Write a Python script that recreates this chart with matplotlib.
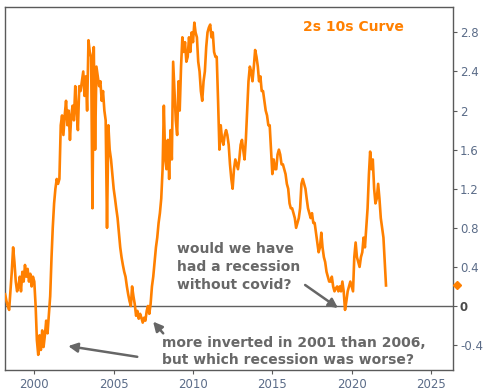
import numpy as np
import pandas as pd
import matplotlib
matplotlib.use('Agg')
import matplotlib.pyplot as plt
import matplotlib.transforms as mtransforms

# 10y - 2y treasury spread, monthly readings (Mar 1998 - Mar 2022)
y1998 = [0.12, 0.05, 0.0, -0.04, 0.15, 0.35, 0.6, 0.45, 0.25, 0.15]
y1999 = [0.2, 0.3, 0.15, 0.35, 0.25, 0.42, 0.3, 0.38, 0.25, 0.33, 0.2, 0.3]
y2000 = [0.25, 0.0, -0.35, -0.5, -0.3, -0.45, -0.25, -0.42, -0.3, -0.15, -0.28, -0.1]
y2001 = [0.1, 0.5, 0.8, 1.05, 1.2, 1.3, 1.25, 1.3, 1.85, 1.95, 1.75, 1.95]
y2002 = [2.1, 1.85, 2.0, 1.7, 1.95, 2.05, 1.9, 2.25, 2.0, 1.8, 2.25, 2.2]
y2003 = [2.3, 2.4, 2.15, 2.35, 2.0, 2.72, 2.6, 2.55, 1.0, 2.65, 1.6, 2.45]
y2004 = [2.35, 2.25, 2.3, 2.1, 2.2, 2.0, 1.9, 0.8, 1.85, 1.6, 1.5, 1.35]
y2005 = [1.2, 1.1, 1.0, 0.9, 0.75, 0.6, 0.5, 0.42, 0.35, 0.3, 0.2, 0.12]
y2006 = [0.05, 0.0, 0.2, 0.1, 0.02, -0.1, -0.05, -0.13, -0.08, -0.12, -0.17, -0.12]
y2007 = [-0.15, -0.05, 0.0, -0.08, 0.02, 0.2, 0.3, 0.45, 0.6, 0.7, 0.85, 0.95]
y2008 = [1.1, 1.4, 2.05, 1.5, 1.4, 1.7, 1.3, 1.8, 1.5, 2.5, 2.2, 1.9]
y2009 = [1.75, 2.3, 2.0, 2.45, 2.75, 2.6, 2.7, 2.5, 2.55, 2.75, 2.6, 2.8]
y2010 = [2.7, 2.9, 2.8, 2.75, 2.5, 2.4, 2.2, 2.1, 2.3, 2.4, 2.65, 2.8]
y2011 = [2.85, 2.88, 2.75, 2.8, 2.6, 2.55, 2.55, 2.1, 1.6, 1.85, 1.7, 1.65]
y2012 = [1.75, 1.8, 1.75, 1.65, 1.45, 1.3, 1.2, 1.4, 1.5, 1.45, 1.4, 1.5]
y2013 = [1.65, 1.7, 1.6, 1.5, 1.7, 2.0, 2.3, 2.45, 2.4, 2.3, 2.45, 2.62]
y2014 = [2.55, 2.45, 2.3, 2.35, 2.2, 2.2, 2.1, 2.0, 1.95, 1.85, 1.85, 1.6]
y2015 = [1.35, 1.5, 1.4, 1.4, 1.55, 1.6, 1.55, 1.45, 1.45, 1.4, 1.35, 1.25]
y2016 = [1.2, 1.05, 1.0, 1.0, 0.95, 0.9, 0.8, 0.85, 0.9, 1.0, 1.25, 1.3]
y2017 = [1.25, 1.2, 1.1, 1.0, 0.95, 0.9, 0.95, 0.85, 0.85, 0.75, 0.65, 0.55]
y2018 = [0.6, 0.75, 0.6, 0.5, 0.45, 0.35, 0.3, 0.25, 0.25, 0.3, 0.2, 0.15]
y2019 = [0.18, 0.2, 0.15, 0.2, 0.15, 0.25, 0.15, -0.04, 0.05, 0.15, 0.2, 0.25]
y2020 = [0.2, 0.15, 0.5, 0.65, 0.5, 0.45, 0.4, 0.5, 0.55, 0.7, 0.6, 0.8]
y2021 = [1.0, 1.35, 1.58, 1.4, 1.5, 1.2, 1.05, 1.1, 1.25, 1.1, 0.9, 0.8]
y2022 = [0.7, 0.45, 0.21]

spread = (y1998 + y1999 + y2000 + y2001 + y2002 + y2003 + y2004 + y2005 + y2006
          + y2007 + y2008 + y2009 + y2010 + y2011 + y2012 + y2013 + y2014 + y2015
          + y2016 + y2017 + y2018 + y2019 + y2020 + y2021 + y2022)
dates = pd.date_range('1998-03-01', periods=len(spread), freq='MS')

year_ticks = [2000, 2005, 2010, 2015, 2020, 2025]
value_ticks = [-0.4, 0, 0.4, 0.8, 1.2, 1.6, 2, 2.4, 2.8]
value_labels = ['-0.4', '0', '0.4', '0.8', '1.2', '1.6', '2', '2.4', '2.8']

orange = '#ff8000'
grey_txt = '#686868'
tick_col = '#5b6c88'
spine_col = '#5a5a5a'

fig = plt.figure(figsize=(4.91, 3.90), dpi=100)
ax = fig.add_axes([5/491, 20/390, 448/491, 363/390])

ax.plot(dates, spread, color=orange, lw=1.9, zorder=3)
ax.axhline(0, color='#606060', lw=1.0, zorder=2)

# last value marker on the right axis
trans = mtransforms.blended_transform_factory(ax.transAxes, ax.transData)
ax.plot([1.009], [spread[-1]], marker='D', ms=4, color=orange, transform=trans,
        clip_on=False, zorder=5)

ax.set_xlim(pd.Timestamp('1998-02-26'), pd.Timestamp('2026-05-21'))
ax.set_ylim(-0.655, 3.06)

ax.set_xticks([pd.Timestamp(f'{y}-01-01') for y in year_ticks])
ax.set_xticklabels([str(y) for y in year_ticks])
ax.yaxis.tick_right()
ax.set_yticks(value_ticks)
ax.set_yticklabels(value_labels)

ax.tick_params(axis='both', direction='out', length=3, width=0.8, color=spine_col,
               labelcolor=tick_col, labelsize=8.5)
ax.tick_params(axis='y', pad=2)
ax.tick_params(axis='x', pad=3)
for lab in ax.get_yticklabels():
    if lab.get_text() == '0':
        lab.set_fontweight('bold')
        lab.set_color('#4a4a4a')

for s in ax.spines.values():
    s.set_color(spine_col)
    s.set_linewidth(1.0)

ax.text(0.777, 0.945, '2s 10s Curve', transform=ax.transAxes, ha='center', va='center',
        color=orange, fontsize=10, fontweight='bold')

# annotations
ax.text(pd.Timestamp('2009-01-01'), 0.40, 'would we have\nhad a recession\nwithout covid?',
        ha='left', va='center', color=grey_txt, fontsize=10, fontweight='bold',
        linespacing=1.35)
ax.text(pd.Timestamp('2008-01-20'), -0.465, 'more inverted in 2001 than 2006,\nbut which recession was worse?',
        ha='left', va='center', color=grey_txt, fontsize=10, fontweight='bold',
        linespacing=1.3)

arrow = dict(arrowstyle='-|>,head_length=0.55,head_width=0.28', color='#666666', lw=1.8,
             shrinkA=0, shrinkB=0)
ax.annotate('', xy=(pd.Timestamp('2019-02-20'), -0.02), xytext=(pd.Timestamp('2017-01-25'), 0.215),
            arrowprops=arrow)
ax.annotate('', xy=(pd.Timestamp('2002-02-20'), -0.41), xytext=(pd.Timestamp('2006-06-28'), -0.52),
            arrowprops=arrow)
ax.annotate('', xy=(pd.Timestamp('2007-06-28'), -0.16), xytext=(pd.Timestamp('2008-02-15'), -0.28),
            arrowprops=arrow)

fig.savefig('out.png', dpi=100)
